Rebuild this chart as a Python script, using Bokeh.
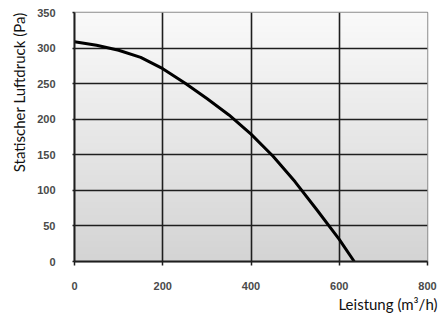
import numpy as np
from bokeh.plotting import figure
from bokeh.models import FixedTicker, Title
from bokeh.embed import file_html
from bokeh.resources import INLINE

# data
flow = [0, 50, 100, 150, 200, 250, 300, 350, 400, 450, 500, 550, 600, 634]
pressure = [309, 304, 297, 287, 271, 251, 229, 206, 179, 148, 112, 72, 31, 0]
x_ticks = [0, 200, 400, 600, 800]
y_ticks = [0, 50, 100, 150, 200, 250, 300, 350]
x_grid = [200, 400, 600]
y_grid = [50, 100, 150, 200, 250, 300]
x_title = "Leistung (m³/h)"
y_title = "Statischer Luftdruck (Pa)"

p = figure(width=438, height=314, x_range=(0, 800), y_range=(0, 350),
           output_backend="svg", toolbar_location=None,
           min_border_left=74, min_border_right=11, min_border_top=12, min_border_bottom=53)
p.background_fill_color = "white"
p.border_fill_color = "white"
p.outline_line_color = "#8c8c8c"
p.outline_line_width = 1.5

# vertical gradient background (white top -> light grey bottom)
n = 256
t = np.linspace(0, 1, n)  # 0 bottom, 1 top
top = np.array([250, 250, 250]); bot = np.array([212, 212, 212])
cols = (bot[None, :] + (top - bot)[None, :] * t[:, None]).astype(np.uint32)
img = np.empty((n, 1), dtype=np.uint32)
view = img.view(dtype=np.uint8).reshape((n, 1, 4))
view[:, 0, 0] = cols[:, 0]; view[:, 0, 1] = cols[:, 1]; view[:, 0, 2] = cols[:, 2]; view[:, 0, 3] = 255
r = p.image_rgba(image=[img], x=0, y=0, dw=800, dh=350)
r.level = "image"

p.xgrid.ticker = FixedTicker(ticks=x_grid)
p.ygrid.ticker = FixedTicker(ticks=y_grid)
for g in (p.xgrid, p.ygrid):
    g.grid_line_color = "#1e1e1e"
    g.grid_line_width = 1.6

p.line(flow, pressure, line_color="black", line_width=3, line_join="round")

p.xaxis.ticker = FixedTicker(ticks=x_ticks)
p.yaxis.ticker = FixedTicker(ticks=y_ticks)
for ax in (p.xaxis, p.yaxis):
    ax.axis_line_color = "#1e1e1e"
    ax.axis_line_width = 2
    ax.major_tick_line_color = "#1e1e1e"
    ax.major_tick_line_width = 1.5
    ax.major_tick_in = 0
    ax.minor_tick_line_color = None
    ax.major_label_text_font = "Liberation Sans"
    ax.major_label_text_font_style = "bold"
    ax.major_label_text_font_size = "11px"
    ax.major_label_text_color = "#4a4a4a"
p.xaxis.major_tick_out = 4
p.yaxis.major_tick_out = 2
p.xaxis.major_label_standoff = 16
p.yaxis.major_label_standoff = 17

p.add_layout(Title(text=y_title, align="right", offset=0, standoff=14,
                   text_font="Lato", text_font_style="normal", text_font_size="15px",
                   text_color="#111111"), "left")

p.add_layout(Title(text=x_title, align="right", offset=-10, standoff=0,
                   text_font="Lato", text_font_style="normal", text_font_size="15px",
                   text_color="#111111"), "below")

open("out.html", "w").write(file_html(p, INLINE))
